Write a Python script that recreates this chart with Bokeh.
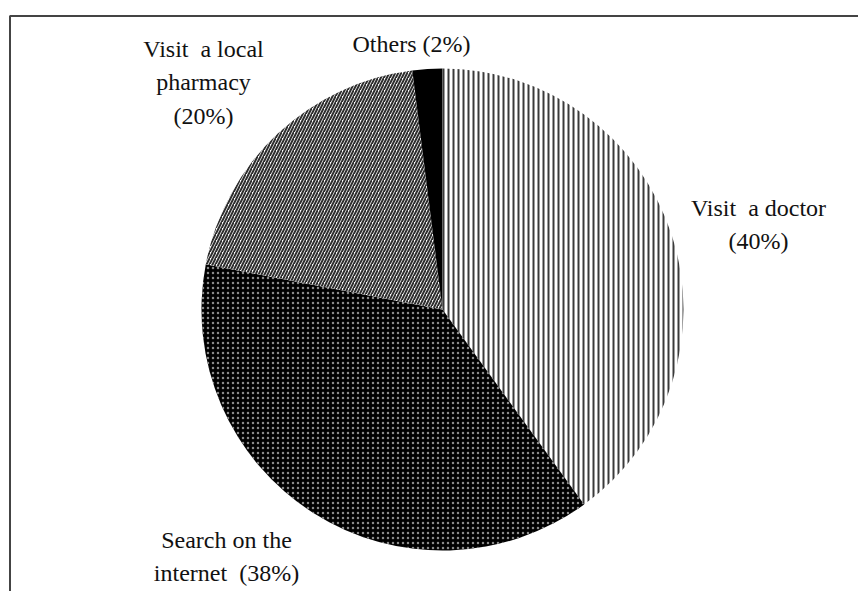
import math
from bokeh.plotting import figure
from bokeh.models import ColumnDataSource, Range1d
from bokeh.core.properties import value
from bokeh.embed import file_html
from bokeh.resources import INLINE

NB = "\u00a0"

# ---- data ----
categories = ["Visit  a doctor", "Search on the internet", "Visit  a local pharmacy", "Others"]
percents = [40, 38, 20, 2]
label_texts = ["Visit" + NB + NB + "a doctor\n(40%)",
               "Search" + NB + "on" + NB + "the\ninternet" + NB + NB + "(38%)",
               "Visit" + NB + NB + "a local\npharmacy\n(20%)",
               "Others (2%)"]

# ---- styles ----
fills = ["white", "black", "white", "black"]
hatches = ["vertical_line", "dot", "right_diagonal_line", " "]
hatch_colors = ["#3a3a3a", "#8a8a8a", "#2e2e2e", "black"]
hatch_scales = [5.0, 5.0, 6.0, 1.0]
hatch_weights = [2.0, 2.0, 2.0, 1.0]

# ---- layout ----
W, H = 858, 591
cx, cy, R = 442, H - 309, 241
label_pos = [(758, H - 224), (226, H - 556), (203, H - 82), (411, H - 43)]

total = float(sum(percents))
starts, ends = [], []
acc = 0.0
for v in percents:
    starts.append(math.pi / 2 - 2 * math.pi * acc / total)
    acc += v
    ends.append(math.pi / 2 - 2 * math.pi * acc / total)

src = ColumnDataSource(dict(
    x=[cx] * len(percents), y=[cy] * len(percents),
    start=starts, end=ends, fill=fills, hatch=hatches,
    hcolor=hatch_colors, hscale=hatch_scales, hweight=hatch_weights,
    cat=categories,
))

p = figure(width=W, height=H, output_backend="svg", toolbar_location=None,
           x_range=Range1d(0, W), y_range=Range1d(0, H),
           min_border=0, min_border_left=0, min_border_right=0,
           min_border_top=0, min_border_bottom=0)
p.axis.visible = False
p.grid.visible = False
p.outline_line_color = None
p.background_fill_color = "white"
p.border_fill_color = "white"

p.wedge(x="x", y="y", radius=R, start_angle="start", end_angle="end",
        direction="clock", fill_color="fill", line_color=None,
        hatch_pattern="hatch", hatch_color="hcolor", hatch_scale="hscale",
        hatch_weight="hweight", source=src)

# frame (top and left edges visible)
p.line(x=[9.5, 9.5, W + 5], y=[-5, H - 15.5, H - 15.5], line_color="#444444", line_width=2)

lsrc = ColumnDataSource(dict(x=[lp[0] for lp in label_pos], y=[lp[1] for lp in label_pos], t=label_texts))
p.text(x="x", y="y", text="t", source=lsrc, text_align="center", text_baseline="middle",
       text_font=value("Liberation Serif"), text_font_size="24px", text_color="#111111",
       text_line_height=1.3)

open("out.html", "w").write(file_html(p, INLINE))
